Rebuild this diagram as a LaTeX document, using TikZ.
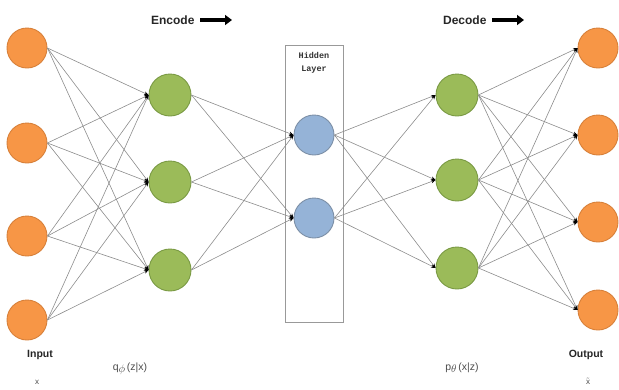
\documentclass[tikz,border=0pt]{standalone}
\usepackage{fontspec}
\setmainfont{Liberation Sans}
\newfontfamily\monofont{Liberation Mono}
\usetikzlibrary{arrows.meta}
\definecolor{inorange}{HTML}{F79646}
\definecolor{inorangeb}{HTML}{D7803A}
\definecolor{encgreen}{HTML}{9BBB59}
\definecolor{encgreenb}{HTML}{7A9A44}
\definecolor{hidblue}{HTML}{95B3D7}
\definecolor{hidblueb}{HTML}{7C8FA6}
\begin{document}
\begin{tikzpicture}[x=1pt,y=-1pt,
  neuron/.style={circle,minimum size=40pt,inner sep=0pt,line width=0.9pt},
  inneuron/.style={neuron,fill=inorange,draw=inorangeb},
  greenneuron/.style={neuron,minimum size=42pt,fill=encgreen,draw=encgreenb},
  blueneuron/.style={neuron,fill=hidblue,draw=hidblueb},
  link/.style={draw=black!45,line width=0.6pt,-{Stealth[length=4.5pt,width=3.5pt,black]}},
  title/.style={font=\bfseries\fontsize{12}{14}\selectfont,text=black!85},
  label/.style={font=\bfseries\fontsize{10.5}{12}\selectfont,text=black!85},
  caption/.style={font=\fontsize{10.5}{12}\selectfont,text=black!70},
  bigarrow/.style={line width=3.4pt,-{Triangle[length=7pt,width=10pt]},black}
]
\useasboundingbox (0,0) rectangle (619,389);

% hidden layer frame
\node[draw=gray!80,line width=0.8pt,minimum width=58pt,minimum height=277pt,inner sep=0pt] (frame) at (314,183.5) {};
\node[font=\monofont\bfseries\fontsize{8.5}{13}\selectfont,align=center,text=black!80] (hidtitle) at (314,63) {Hidden\\Layer};

% neurons
\foreach \i/\y in {1/48,2/143,3/236,4/320} \node[inneuron] (in\i) at (27,\y) {};
\foreach \i/\y in {1/95,2/182,3/270} \node[greenneuron] (en\i) at (170,\y) {};
\foreach \i/\y in {1/135,2/218} \node[blueneuron] (hd\i) at (314,\y) {};
\foreach \i/\y in {1/95,2/180,3/268} \node[greenneuron] (de\i) at (457,\y) {};
\foreach \i/\y in {1/48,2/135,3/222,4/310} \node[inneuron] (out\i) at (598,\y) {};

% full connections between consecutive layers
\foreach \a in {1,...,4} \foreach \b in {1,2,3} \draw[link] (in\a.east) -- (en\b.west);
\foreach \a in {1,2,3} \foreach \b in {1,2} \draw[link] (en\a.east) -- (hd\b.west);
\foreach \a in {1,2} \foreach \b in {1,2,3} \draw[link] (hd\a.east) -- (de\b.west);
\foreach \a in {1,2,3} \foreach \b in {1,...,4} \draw[link] (de\a.east) -- (out\b.west);

% headings
\node[title,anchor=east] (enc) at (198,20) {Encode};
\coordinate (encA) at (200,20);
\coordinate (encB) at (232,20);
\draw[bigarrow] (encA) -- (encB);
\node[title,anchor=east] (dec) at (490,20) {Decode};
\coordinate (decA) at (492,20);
\coordinate (decB) at (524,20);
\draw[bigarrow] (decA) -- (decB);

% bottom labels
\node[label] (inlab) at (40,355) {Input};
\node[label] (outlab) at (586,355) {Output};
\node[caption] (qlab) at (130,369) {q\raisebox{-1.5pt}{$\phi$}\,(z|x)};
\node[caption] (plab) at (462,368) {p\raisebox{-1.5pt}{$\theta$}\,(x|z)};
\node[caption,font=\fontsize{8}{10}\selectfont] (xlab) at (37,382) {x};
\node[caption,font=\fontsize{8}{10}\selectfont] (xtlab) at (588,381) {$\tilde{\mathrm{x}}$};
\end{tikzpicture}
\end{document}
